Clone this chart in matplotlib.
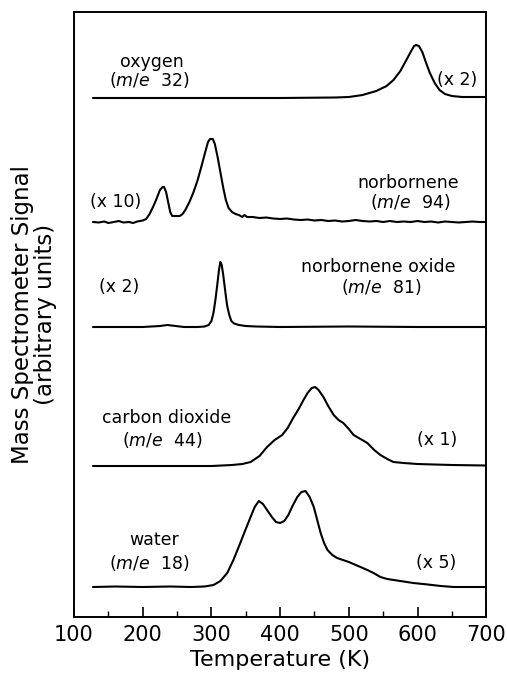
import numpy as np
import matplotlib.pyplot as plt

# signal heights above each trace's own baseline
t_oxygen = [128, 200, 300, 400, 480, 500, 520, 540, 555, 565, 575, 583, 590, 595, 598,
            602, 607, 612, 618, 625, 632, 640, 650, 665, 700]
s_oxygen = [0, 0, 0, 0, 0.5, 1, 3, 7, 12, 18, 27, 37, 46, 52, 53,
            52, 46, 36, 25, 15, 8, 4, 2, 1, 1]

t_norb = [128, 136, 144, 150, 158, 165, 172, 180, 186, 192, 200, 205, 210, 215, 220,
          225, 229, 231, 234, 237, 240, 243, 248, 254, 258, 262, 268, 274, 280, 286,
          291, 295, 298, 302, 305, 309, 313, 317, 321, 325, 330, 335, 340, 345, 348,
          352, 360, 370, 380, 390, 400, 410, 420, 430, 440, 450, 460, 470, 480, 490,
          500, 510, 520, 530, 540, 550, 560, 570, 580, 590, 600, 610, 620, 630, 640,
          650, 660, 670, 680, 690, 700]
s_norb = [0, -0.5, 0.5, -1, 0, 1, -0.5, 0, -1, 0.5, 1.5, 3, 8, 15, 23,
          32, 35, 35, 30, 20, 10, 6, 6, 6, 8, 12, 20, 30, 42, 57,
          70, 80, 83, 83, 78, 65, 50, 35, 22, 14, 10, 8, 7, 5, 7,
          5, 5, 4, 4.5, 3.5, 3, 3.5, 2.5, 2, 2.5, 1.5, 2, 1, 1.5, 0.5,
          1, 2, 1, 0.5, 1, 0, 1, 0, 0.5, 0, 1, 0, 0.5, -0.5, 0.5,
          0, -0.5, 0, 0.5, 0, 0]

t_nbo = [128, 200, 225, 236, 248, 260, 280, 290, 296, 300, 303, 306, 309, 311, 313,
         315, 317, 319, 321, 323, 326, 329, 333, 340, 350, 365, 400, 500, 600, 700]
s_nbo = [0, 0, 1, 2, 1, 0, 0, 0.5, 2, 6, 14, 28, 45, 57, 65,
         62, 53, 42, 31, 21, 12, 6, 3.5, 2, 1, 0.5, 0, 0.5, 0, 0]

t_co2 = [128, 200, 300, 330, 345, 357, 370, 381, 392, 403, 411, 419, 427, 434, 440,
         446, 451, 456, 463, 470, 478, 485, 492, 500, 507, 517, 527, 537, 546, 556,
         565, 580, 600, 650, 700]
s_co2 = [0, 0, 0, 1, 2, 4, 10, 19, 26, 31, 38, 48, 57, 66, 73,
         78, 79, 76, 69, 60, 51, 46, 43, 37, 31, 27, 23, 16, 11, 7,
         4, 3, 2, 1, 0.5]

t_water = [128, 160, 200, 240, 270, 290, 303, 313, 323, 332, 342, 350, 357, 363, 369,
           375, 381, 388, 394, 400, 406, 412, 418, 425, 431, 437, 443, 449, 454, 459,
           464, 469, 476, 483, 500, 517, 527, 536, 546, 556, 575, 594, 615, 634, 653, 700]
s_water = [0, 0.5, 0, 0.5, 0, 0.5, 2, 6, 14, 27, 44, 58, 70, 80, 86,
           83, 77, 70, 65, 64, 66, 72, 81, 90, 95, 96, 90, 80, 67, 54,
           44, 37, 32, 29, 25, 20, 17, 14, 10, 8, 6, 4, 2.5, 1, 0, 0]

fs = 12.5
mz = r'($\it{m/e}$  '


def main():
    fig = plt.figure(figsize=(5.07, 6.82), dpi=100)
    ax = fig.add_axes([0.146, 0.0953, 0.813, 0.8871])

    traces = [(t_water, s_water, 30), (t_co2, s_co2, 151), (t_nbo, s_nbo, 290),
              (t_norb, s_norb, 395), (t_oxygen, s_oxygen, 519)]
    for t, s, off in traces:
        ax.plot(t, np.array(s) + off, color='black', lw=1.5, solid_joinstyle='round')

    # labels
    kw = dict(ha='center', va='center', fontsize=fs)
    ax.text(214, 555, 'oxygen', **kw)
    ax.text(209, 537, mz + '32)', **kw)
    ax.text(658, 537, '(x 2)', **kw)

    ax.text(160, 415, '(x 10)', **kw)
    ax.text(586, 434, 'norbornene', **kw)
    ax.text(589, 415, mz + '94)', **kw)

    ax.text(166, 330, '(x 2)', **kw)
    ax.text(543, 350, 'norbornene oxide', **kw)
    ax.text(547, 330, mz + '81)', **kw)

    ax.text(235, 199, 'carbon dioxide', **kw)
    ax.text(228, 177, mz + '44)', **kw)
    ax.text(629, 177, '(x 1)', **kw)

    ax.text(216, 77, 'water', **kw)
    ax.text(209, 54, mz + '18)', **kw)
    ax.text(627, 54, '(x 5)', **kw)

    ax.set_xlim(100, 700)
    ax.set_ylim(0, 605)
    ax.set_xticks(range(100, 701, 100))
    ax.set_xticks(range(150, 700, 100), minor=True)
    ax.set_yticks([])
    ax.tick_params(axis='x', which='major', direction='in', length=7, width=1.2,
                   labelsize=15, pad=6)
    ax.tick_params(axis='x', which='minor', direction='in', length=4, width=1.0)
    for sp in ax.spines.values():
        sp.set_linewidth(1.4)

    ax.set_xlabel('Temperature (K)', fontsize=16, labelpad=3)
    ax.set_ylabel('Mass Spectrometer Signal\n(arbitrary units)', fontsize=16.5,
                  linespacing=1.0, labelpad=12)

    fig.savefig('out.png', dpi=100)


main()
